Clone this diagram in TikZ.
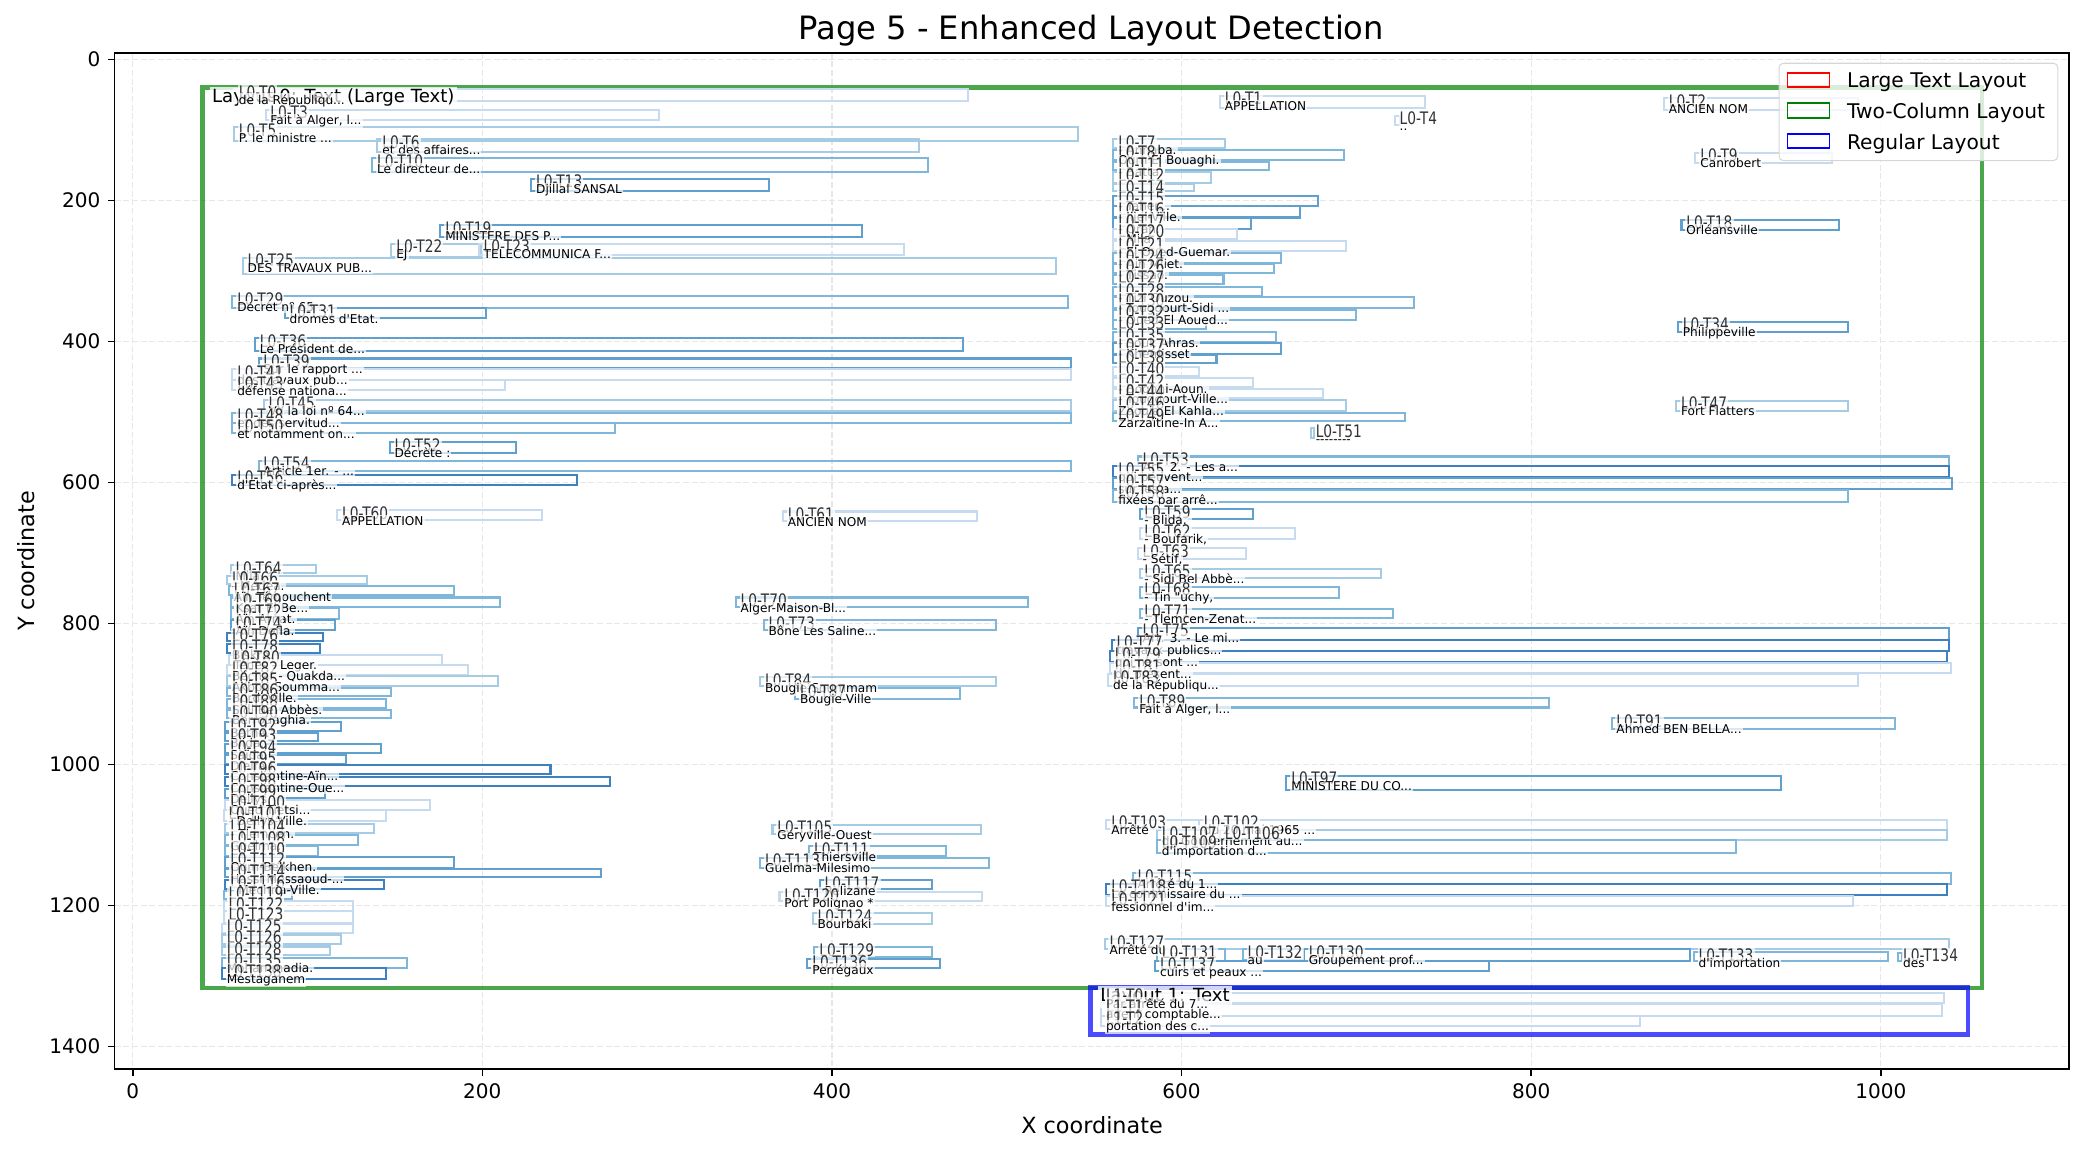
\documentclass[tikz,border=0pt]{standalone}
\usepackage{fontspec}
\setmainfont{DejaVu Sans}[Ligatures=TeXOff]
\newfontfamily\labelfont{DejaVu Sans}[FakeStretch=0.8, Ligatures=TeXOff]
% colours of the text block outlines (light to dark)
\definecolor{blA}{RGB}{198,219,239}
\definecolor{blB}{RGB}{165,204,228}
\definecolor{blC}{RGB}{127,183,218}
\definecolor{blD}{RGB}{96,160,207}
\definecolor{blE}{RGB}{62,129,192}
\definecolor{laygreen}{RGB}{0,128,0}
\definecolor{gridgray}{RGB}{231,231,231}
\definecolor{legedge}{RGB}{214,214,214}
\def\nonetxt{none}
\newcommand{\tdots}{...}
% x1/y1/x2/y2/shade/id/text
\def\blocklist{%
58/42/478/59/A/L0-T0/de la Républiqu\tdots,
76/71/301/86/A/L0-T3/{Fait à Alger, l\tdots},
58/96/541/115/B/L0-T5/P. le ministre \tdots,
140/113/450/131/B/L0-T6/et des affaires\tdots,
137/140/455/159/C/L0-T10/Le directeur de\tdots,
228/169/364/186/D/L0-T13/Djillal SANSAL,
176/235/417/252/D/L0-T19/MINISTERE DES P\tdots,
148/261/199/280/B/L0-T22/EJ,
198/261/441/277/A/L0-T23/TELECOMMUNICA F\tdots,
63/281/528/304/B/L0-T25/DES TRAVAUX PUB\tdots,
57/336/535/353/C/L0-T29/Décret nº 65 \tdots,
87/353/202/366/D/L0-T31/dromes d'Etat.,
70/395/475/413/D/L0-T36/Le Président de\tdots,
72/424/537/438/D/L0-T39/Sur le rapport \tdots,
57/439/537/455/A/L0-T41/des travaux pub\tdots,
57/455/213/469/A/L0-T43/défense nationa\tdots,
75/483/537/499/B/L0-T45/Vu la loi nº 64\tdots,
57/501/537/515/C/L0-T48/et des servitud\tdots,
57/516/276/529/C/L0-T50/et notamment on\tdots,
147/543/219/558/D/L0-T52/Décrète :,
72/569/537/584/C/L0-T54/Article 1er. - \tdots,
57/589/254/603/E/L0-T56/d'Etat ci-après\tdots,
117/639/234/653/A/L0-T60/APPELLATION,
372/641/483/654/A/L0-T61/ANCIEN NOM,
622/51/739/69/A/L0-T1/APPELLATION,
722/80/725/93/A/L0-T4/..,
876/55/987/71/A/L0-T2/ANCIEN NOM,
561/113/625/126/B/L0-T7/- Annaba.,
561/128/693/143/C/L0-T8/Oum El Bouaghi.,
561/145/650/157/C/L0-T11/- Batta.,
561/160/617/175/B/L0-T12/none,
561/177/607/186/B/L0-T14/none,
561/193/678/207/D/L0-T15/- Taher\tdots,
561/208/668/224/D/L0-T16/- Jijel-Ville.,
561/225/640/240/D/L0-T17/- Oran.,
561/240/632/254/A/L0-T20/- Mila.,
561/258/694/272/A/L0-T21/- El Oued-Guemar.,
561/275/657/288/C/L0-T24/- Ain Mliet.,
561/290/653/303/C/L0-T26/- Tissao.,
561/305/624/319/C/L0-T27/none,
561/323/646/336/C/L0-T28/- Tizi Ouzou.,
561/337/733/353/C/L0-T30/- Touggourt-Sidi \tdots,
561/355/700/369/C/L0-T32/- Oued-El Aoued\tdots,
561/370/614/382/C/L0-T33/none,
561/387/654/400/C/L0-T35/- Souk Ahras.,
561/402/657/417/D/L0-T37/- Khemisset,
561/419/620/430/D/L0-T38/none,
561/436/610/449/A/L0-T40/none,
561/452/641/465/A/L0-T42/- Boghni-Aoun.,
561/467/681/480/A/L0-T44/- Touggourt-Ville\tdots,
561/483/694/498/B/L0-T46/Zaouia El Kahla\tdots,
561/501/728/513/C/L0-T49/Zarzaïtine-In A\tdots,
674/523/676/537/B/L0-T51/--------,
894/132/972/146/A/L0-T9/Canrobert,
886/227/976/242/D/L0-T18/Orléansville,
884/372/981/387/D/L0-T34/Philippeville,
883/484/981/498/B/L0-T47/Fort Flatters,
575/563/1039/577/C/L0-T53/Art. 2. - Les a\tdots,
561/577/1039/592/E/L0-T55/qui peuvent\tdots,
561/594/1041/609/D/L0-T57/sur les a\tdots,
561/610/981/628/C/L0-T58/fixées par arrê\tdots,
576/638/641/652/D/L0-T59/{- Blida,},
576/665/665/680/A/L0-T62/{- Boufarik,},
575/693/637/708/A/L0-T63/{- Sétif,},
576/722/714/736/B/L0-T65/- Sidi Bel Abbè\tdots,
576/748/690/764/C/L0-T68/{- Tin "uchy,},
576/779/721/792/C/L0-T71/- Tlemcen-Zenat\tdots,
575/806/1039/823/D/L0-T75/Art. 3. - Le mi\tdots,
560/823/1039/839/E/L0-T77/travaux publics\tdots,
559/839/1038/855/E/L0-T79/qui ne sont \tdots,
559/856/1040/870/A/L0-T81/du présent\tdots,
558/872/987/888/A/L0-T83/de la Républiqu\tdots,
573/906/810/919/C/L0-T89/{Fait à Alger, l\tdots},
846/934/1008/949/C/L0-T91/Ahmed BEN BELLA\tdots,
660/1016/943/1036/D/L0-T97/MINISTERE DU CO\tdots,
557/1078/610/1092/A/L0-T103/Arrêté,
610/1078/1038/1093/A/L0-T102/du 20 mai 1965 \tdots,
586/1093/1038/1107/B/L0-T107/du Gouvernement au\tdots,
622/1093/625/1107/B/L0-T106/none,
586/1107/917/1125/C/L0-T109/d'importation d\tdots,
572/1154/1040/1169/C/L0-T115/Arrêté du 1\tdots,
557/1169/1038/1185/E/L0-T118/Le commissaire du \tdots,
557/1187/984/1200/A/L0-T121/fessionnel d'im\tdots,
556/1248/1039/1262/B/L0-T127/Arrêté du \tdots,
586/1262/625/1279/C/L0-T131/none,
635/1262/670/1277/C/L0-T132/au,
670/1262/891/1279/D/L0-T130/Groupement prof\tdots,
893/1266/1004/1279/C/L0-T133/d'importation,
1010/1267/1012/1278/C/L0-T134/des,
585/1279/776/1293/D/L0-T137/cuirs et peaux \tdots,
345/763/512/777/C/L0-T70/Alger-Maison-Bl\tdots,
361/795/494/809/C/L0-T73/Bône Les Saline\tdots,
359/876/494/889/B/L0-T84/Bougie-Soummam,
379/892/473/907/C/L0-T87/Bougie-Ville,
366/1085/485/1099/B/L0-T105/Géryville-Ouest,
387/1116/465/1130/C/L0-T111/Thiersville,
359/1132/490/1146/C/L0-T113/Guelma-Milesimo,
393/1164/457/1177/D/L0-T117/Relizane,
370/1181/486/1194/A/L0-T120/Port Polignao *,
389/1211/457/1226/B/L0-T124/Bourbaki,
390/1259/457/1273/C/L0-T129/none,
386/1276/462/1289/D/L0-T136/Perrégaux,
56/717/105/728/B/L0-T64/Mila.,
54/732/134/744/B/L0-T66/- Médéa.,
55/747/184/760/C/L0-T67/Aïn Témouchent,
56/763/210/777/C/L0-T69/Ksar El Be\tdots,
56/778/118/793/C/L0-T72/Aïn Arnat.,
56/795/116/809/D/L0-T74/Aïn Defla.,
54/813/109/824/E/L0-T76/none,
54/829/107/842/E/L0-T78/Biskra.,
55/844/177/859/A/L0-T80/Ténès - Leger.,
54/859/192/873/A/L0-T82/Béchar - Quakda\tdots,
54/875/209/889/B/L0-T85/Akbou-Soumma\tdots,
54/891/148/903/C/L0-T86/Bordj-Ville.,
54/907/145/920/C/L0-T88/Sidi Bel Abbès.,
54/922/148/934/C/L0-T90/Berrouaghia.,
53/940/119/953/D/L0-T92/Batna.,
53/955/106/967/D/L0-T93/Blida.,
53/971/142/984/D/L0-T94/Saïda.,
53/987/122/999/D/L0-T95/Djelfa l,
53/1001/239/1014/E/L0-T96/Constantine-Aïn\tdots,
53/1018/273/1031/E/L0-T98/Constantine-Oue\tdots,
53/1034/110/1047/D/L0-T99/Dellys.,
53/1050/170/1064/A/L0-T100/Oued Tietsi\tdots,
52/1065/145/1080/A/L0-T101/- Dellys-Ville.,
53/1084/138/1097/B/L0-T104/- Tlemcen.,
53/1100/129/1114/C/L0-T108/Guelma.,
53/1116/106/1129/C/L0-T110/none,
53/1131/184/1146/D/L0-T112/Oum-Belkhen.,
53/1148/268/1160/D/L0-T114/Hassi Messaoud-\tdots,
53/1163/144/1177/E/L0-T116/- Mechria-Ville.,
52/1179/91/1190/C/L0-T119/none,
52/1194/126/1208/A/L0-T122/none,
52/1208/126/1225/A/L0-T123/none,
51/1226/126/1239/A/L0-T125/none,
51/1241/119/1254/B/L0-T126/none,
51/1258/113/1270/B/L0-T128/none,
51/1274/157/1288/C/L0-T135/Mohammadia.,
51/1289/145/1304/E/L0-T138/Mestaganem,
554/1324/1036/1338/A/L1-T0/Par arrêté du 7\tdots,
554/1339/1035/1356/A/L1-T1/agent comptable\tdots,
554/1356/862/1371/A/L1-T2/portation des c\tdots}
\tikzset{
  gridline/.style={gridgray, line width=0.75pt, dash pattern=on 3.4pt off 1.5pt},
  blockbox/.style={line width=1.15pt},
  blocklabel/.style={anchor=base west, inner xsep=0.6pt, inner ysep=0.6pt, fill=white,
    fill opacity=0.7, text opacity=0.8, font=\labelfont\fontsize{9.8}{10}\selectfont},
  blocktext/.style={anchor=base west, inner xsep=0.6pt, inner ysep=0.6pt, fill=white,
    fill opacity=0.7, text opacity=1, font=\fontsize{6.9}{7}\selectfont},
  layoutlabel/.style={anchor=base west, inner sep=1.3pt, fill=white, fill opacity=0.8,
    text opacity=1, font=\fontsize{10.3}{11}\selectfont},
  ticklabel/.style={inner sep=0pt, font=\fontsize{11.4}{12}\selectfont},
  legendtext/.style={anchor=base west, inner sep=0pt, font=\fontsize{11.5}{12}\selectfont},
  legendpatch/.style={line width=1pt},
}
\begin{document}
\begin{tikzpicture}[x=0.03496cm, y=-0.014106cm]
  \useasboundingbox (-75.92,-84.5) rectangle (1115.7,1548.9);
  % Dashed grid behind everything
  \foreach \gx in {0,200,...,1000} \draw[gridline] (\gx,-9.5) -- (\gx,1432);
  \foreach \gy in {0,200,...,1400} \draw[gridline] (-10.3,\gy) -- (1107.7,\gy);
  % Layout regions
  \draw[laygreen, draw opacity=0.7, line width=2.6pt] (40,40) rectangle (1058,1317);
  \draw[blue, draw opacity=0.7, line width=2.6pt] (548,1316) rectangle (1050,1383);
  % Text block outlines
  \foreach \xa/\ya/\xb/\yb/\bc/\id/\txt in \blocklist {
    \draw[blockbox, draw=bl\bc] (\xa,\ya) rectangle (\xb,\yb);
  }
  % Layout labels
  \node[layoutlabel] (layout0) at (43.9,61.5) {Layout 0: Text (Large Text)};
  \node[layoutlabel] (layout1) at (552.1,1336) {Layout 1: Text};
  % Block ids and their texts
  \foreach \xa/\ya/\xb/\yb/\bc/\id/\txt in \blocklist {
    \node[blocklabel] (\id) at (\xa+2,\ya+12.7) {\id};
    \ifx\txt\nonetxt\else
      \node[blocktext] (\id-txt) at (\xa+2,\ya+21.3) {\txt};
    \fi
  }
  % Axes frame, ticks and tick labels
  \draw[line width=0.9pt] (-10.3,-9.5) rectangle (1107.7,1432);
  \foreach \tx in {0,200,...,1000} {
    \draw[line width=0.9pt] (\tx,1432) -- (\tx,1441.9);
    \node[ticklabel, anchor=north] (xt\tx) at (\tx,1452) {\tx};
  }
  \foreach \ty in {0,200,...,1400} {
    \draw[line width=0.9pt] (-10.3,\ty) -- (-14.3,\ty);
    \node[ticklabel, anchor=east] (yt\ty) at (-18.3,\ty) {\ty};
  }
  % Title and axis labels
  \node[anchor=base, font=\fontsize{18.3}{20}\selectfont] (title) at (548.3,-28.4) {Page 5 - Enhanced Layout Detection};
  \node[anchor=base, font=\fontsize{12.7}{14}\selectfont] (xlabel) at (548.8,1523.4) {X coordinate};
  \node[rotate=90, font=\fontsize{12.7}{14}\selectfont] (ylabel) at (-60.7,711) {Y coordinate};
  % Legend
  \draw[legedge, fill=white, fill opacity=0.8, line width=0.6pt, rounded corners=2.5pt] (941.8,5.2) rectangle (1101.3,143.3);
  \draw[legendpatch, red] (946.6,18.6) rectangle (970.6,39.3);
  \draw[legendpatch, laygreen] (946.6,61.1) rectangle (970.6,82.4);
  \draw[legendpatch, blue] (946.6,105.5) rectangle (970.6,125.8);
  \node[legendtext] (leglarge) at (980.5,39.5) {Large Text Layout};
  \node[legendtext] (legtwo) at (980.5,84) {Two-Column Layout};
  \node[legendtext] (legregular) at (980.5,127.5) {Regular Layout};
\end{tikzpicture}
\end{document}
